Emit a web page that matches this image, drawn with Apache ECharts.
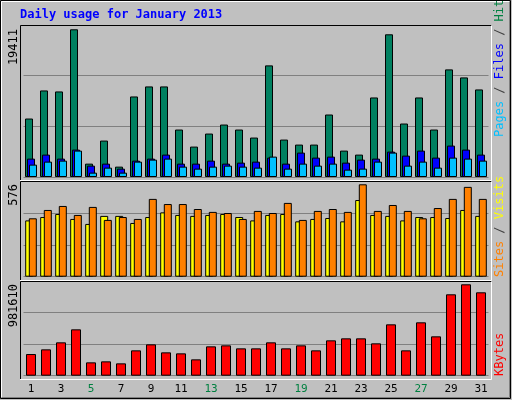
<!DOCTYPE html>
<html><head><meta charset="utf-8">
<script src="https://cdn.jsdelivr.net/npm/echarts@6/dist/echarts.min.js"></script>
<style>html,body{margin:0;padding:0;background:#C0C0C0}#c{width:512px;height:400px}</style>
</head><body><div id="c"></div>
<script>
const days = ['1','2','3','4','5','6','7','8','9','10','11','12','13','14','15','16','17','18','19','20','21','22','23','24','25','26','27','28','29','30','31'];
const weekendDays = ['5','6','12','13','19','20','26','27'];
const hits = [7686,11375,11243,19411,1757,4787,1362,10585,11902,11902,6237,3997,5710,6895,6237,5183,14669,4919,4260,4260,8213,3470,2943,10453,18754,7027,10453,6237,14142,13088,11507];
const files = [2416,2943,2416,3601,1493,1757,1098,2152,2416,2943,1757,1757,2152,1757,1889,2020,2547,1757,3206,2547,2679,1889,2284,2416,3338,2811,3470,2547,4128,3601,2943];
const pages = [1625,2020,2152,3470,571,1230,571,2020,2284,2416,1362,1098,1362,1493,1362,1230,2679,1098,1757,1493,1757,966,1098,2020,3206,1493,2020,1230,2547,2416,2152];
const sites = [351,372,391,360,329,379,379,335,372,401,385,379,385,391,372,351,385,391,345,360,366,345,478,385,379,351,372,372,366,416,379];
const visits = [364,416,441,385,435,354,372,360,485,453,453,422,404,397,360,410,397,460,354,410,422,404,576,410,447,410,364,428,485,560,485];
const kbytes = [232863,283018,358250,497968,143300,154048,132553,272270,336755,250775,240028,175543,315260,326008,293765,293765,358250,293765,326008,272270,379745,401240,401240,347503,551705,272270,573200,422735,874130,981610,895625];
const maxLabels = ['19411','576','981610'];

const mono = 'DejaVu Sans Mono';
const G = [{top:25,h:152},{top:181,h:95.7},{top:281,h:94.7}];
const ymax = [19411*152/147.7, 576*95.7/92.4, 981610*94.7/91.4];
const chart = echarts.init(document.getElementById('c'));
const grids = G.map(g=>({left:23.5,width:465,top:g.top,height:g.h}));
const xAxes = G.map((g,i)=>({type:'category',gridIndex:i,data:days,
  axisLine:{show:false},axisTick:{show:false},
  axisLabel:{show:i===2,margin:8,fontFamily:mono,fontSize:11,
    color:(v)=>weekendDays.includes(v)?'#008040':'#000000'}}));
const yAxes = G.map((g,i)=>({type:'value',gridIndex:i,min:0,max:ymax[i],interval:ymax[i]/3,
  axisLabel:{show:false},axisLine:{show:false},axisTick:{show:false},
  splitLine:{lineStyle:{color:'#808080',width:1}}}));
const bs = (c)=>({color:c,borderColor:'#000',borderWidth:1});
const series = [
 {type:'bar',name:'Hits',data:hits,xAxisIndex:0,yAxisIndex:0,barWidth:8,barGap:'-75%',itemStyle:bs('#008060')},
 {type:'bar',name:'Files',data:files,xAxisIndex:0,yAxisIndex:0,barWidth:8,barGap:'-75%',itemStyle:bs('#0000FF')},
 {type:'bar',name:'Pages',data:pages,xAxisIndex:0,yAxisIndex:0,barWidth:8,barGap:'-75%',itemStyle:bs('#00C0FF')},
 {type:'bar',name:'Sites',data:sites,xAxisIndex:1,yAxisIndex:1,barWidth:8,barGap:'-55%',itemStyle:bs('#FFFF00')},
 {type:'bar',name:'Visits',data:visits,xAxisIndex:1,yAxisIndex:1,barWidth:8,barGap:'-55%',itemStyle:bs('#FF8000')},
 {type:'bar',name:'KBytes',data:kbytes,xAxisIndex:2,yAxisIndex:2,barWidth:10,itemStyle:bs('#FF0000')}
].map(s=>Object.assign(s,{animation:false,silent:true}));

const line=(x1,y1,x2,y2,c)=>({type:'line',z:100,shape:{x1,y1,x2,y2},style:{stroke:c,lineWidth:1}});
const rot=(x,y,text,align,color)=>({type:'text',z:100,x,y,rotation:Math.PI/2,
  style:{text,fill:color||'#000',font:'12px '+mono,align,verticalAlign:'middle'}});
const rotRich=(x,y,rich,parts)=>({type:'text',z:100,x,y,rotation:Math.PI/2,
  style:{text:parts,rich,font:'12px '+mono,align:'left',verticalAlign:'middle'}});

const graphic = [
 {type:'rect',z:-10,shape:{x:0.5,y:0.5,width:510,height:398},style:{fill:'#C0C0C0',stroke:'#000',lineWidth:1}},
 line(1.5,1.5,509.5,1.5,'#fff'), line(1.5,1.5,1.5,397.5,'#fff'),
 line(509.5,1.5,509.5,397.5,'#808080'), line(1.5,397.5,509.5,397.5,'#808080'),
 {type:'text',z:100,x:20,y:15,style:{text:'Daily usage for January 2013',fill:'#0000FF',font:'bold 12px '+mono,verticalAlign:'middle'}},
 // panels
 line(20.5,25.5,491.5,25.5,'#000'), line(20.5,25.5,20.5,180,'#000'), line(20,180.5,491.5,180.5,'#fff'), line(491.5,25.5,491.5,180.5,'#fff'),
 line(20.5,181.5,491.5,181.5,'#000'), line(20.5,181.5,20.5,280,'#000'), line(20,280.5,491.5,280.5,'#fff'), line(491.5,181.5,491.5,280.5,'#fff'),
 line(20.5,281.5,491.5,281.5,'#000'), line(20.5,281.5,20.5,379,'#000'), line(20,379.5,491.5,379.5,'#fff'), line(491.5,281.5,491.5,379.5,'#fff'),
 rot(14,29,maxLabels[0],'right'), rot(14,184,maxLabels[1],'right'), rot(14,284,maxLabels[2],'right'),
 rotRich(500,137,{p:{fill:'#00C0FF'},f:{fill:'#0000FF'},h:{fill:'#008040'},s:{fill:'#404040'}},'{p|Pages}{s| / }{f|Files}{s| / }{h|Hits}'),
 rotRich(500,277,{a:{fill:'#FF8000'},b:{fill:'#FFFF00'},s:{fill:'#404040'}},'{a|Sites}{s| / }{b|Visits}'),
 rotRich(500,376,{r:{fill:'#FF0000'}},'{r|KBytes}')
];
chart.setOption({animation:false,backgroundColor:'#C0C0C0',grid:grids,xAxis:xAxes,yAxis:yAxes,series,graphic});
</script></body></html>
